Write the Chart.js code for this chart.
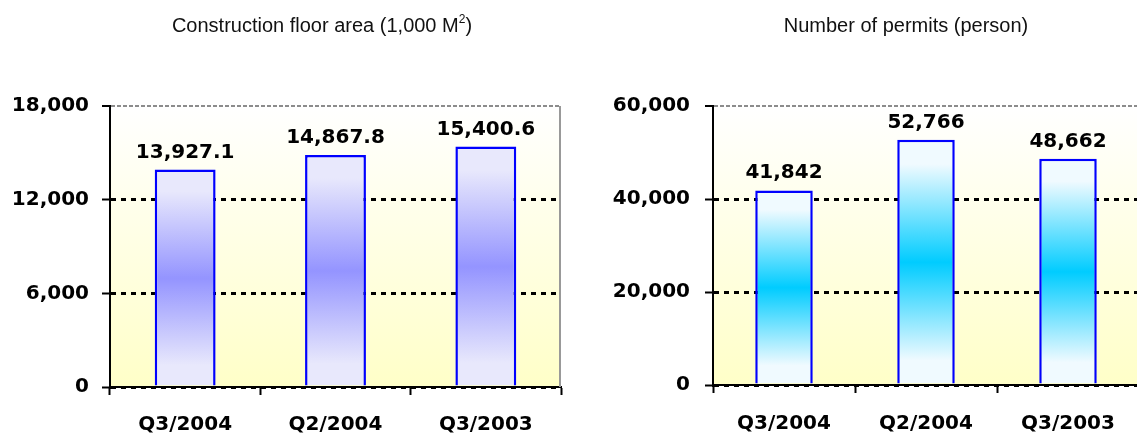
<!DOCTYPE html>
<html>
<head>
<meta charset="utf-8">
<script src="https://cdn.jsdelivr.net/npm/chart.js@4.4.0/dist/chart.umd.min.js"></script>
<style>
  html, body { margin: 0; padding: 0; background: #fff; width: 1137px; height: 435px; overflow: hidden; }
  canvas { position: absolute; top: 0; }
  .title {
    position: absolute; top: 14px; width: 400px; text-align: center; white-space: nowrap;
    font-family: "Liberation Sans", Arial, sans-serif; font-size: 20px; color: #111;
  }
  .title sup { font-size: 12px; vertical-align: 9px; line-height: 0; }
</style>
</head>
<body>
<canvas id="areaChart" width="570" height="435" style="left:0"></canvas>
<canvas id="permitChart" width="570" height="435" style="left:580px"></canvas>
<div class="title" style="left:122px">Construction floor area (1,000 M<sup>2</sup>)</div>
<div class="title" style="left:706px">Number of permits (person)</div>
<script>
// data
const quarters = ["Q3/2004", "Q2/2004", "Q3/2003"];
const floorArea = [13927.1, 14867.8, 15400.6];
const permits = [41842, 52766, 48662];
const areaTicks = [0, 6000, 12000, 18000];
const permitTicks = [0, 20000, 40000, 60000];

Chart.defaults.font.family = '"DejaVu Sans", Verdana, sans-serif';
Chart.defaults.font.weight = "bold";
Chart.defaults.font.size = 20;
Chart.defaults.color = "#000";

// white to pale yellow behind the bars
const plotBackground = {
  id: "plotBackground",
  beforeDraw(chart) {
    const { ctx, chartArea } = chart;
    if (!chartArea) return;
    const g = ctx.createLinearGradient(0, chartArea.top, 0, chartArea.bottom);
    g.addColorStop(0, "#ffffff");
    g.addColorStop(1, "#ffffc8");
    ctx.save();
    ctx.fillStyle = g;
    ctx.fillRect(chartArea.left, chartArea.top, chartArea.right - chartArea.left, chartArea.bottom - chartArea.top);
    ctx.restore();
  }
};

// grey line on the right side of the plot
const rightFrame = {
  id: "rightFrame",
  beforeDatasetsDraw(chart) {
    const { ctx, chartArea } = chart;
    ctx.save();
    ctx.strokeStyle = "#999";
    ctx.lineWidth = 2;
    ctx.beginPath();
    ctx.moveTo(chartArea.right - 1, chartArea.top);
    ctx.lineTo(chartArea.right - 1, chartArea.bottom);
    ctx.stroke();
    ctx.restore();
  }
};

// value above each bar
const valueLabels = {
  id: "valueLabels",
  afterDatasetsDraw(chart, args, opts) {
    const { ctx } = chart;
    const values = chart.data.datasets[0].data;
    ctx.save();
    ctx.font = 'bold 20px "DejaVu Sans", Verdana, sans-serif';
    ctx.fillStyle = "#000";
    ctx.textAlign = "center";
    ctx.textBaseline = "alphabetic";
    chart.getDatasetMeta(0).data.forEach((bar, i) => {
      ctx.fillText(opts.format(values[i]), bar.x, bar.y - 12);
    });
    ctx.restore();
  }
};

function barFill(light, dark) {
  return function (context) {
    const chart = context.chart;
    if (!chart.chartArea || context.type !== "data") return light;
    const y = chart.scales.y;
    const top = y.getPixelForValue(context.raw);
    const base = y.getPixelForValue(0);
    const g = chart.ctx.createLinearGradient(0, top, 0, base);
    g.addColorStop(0, light);
    g.addColorStop(0.1, light);
    g.addColorStop(0.5, dark);
    g.addColorStop(0.9, light);
    g.addColorStop(1, light);
    return g;
  };
}

function makeChart(id, values, ticks, light, dark, format, yWidth, xHeight, padRight, tickPad, labelPad) {
  const top = ticks[ticks.length - 1];
  return new Chart(document.getElementById(id), {
    type: "bar",
    data: {
      labels: quarters,
      datasets: [{
        data: values,
        backgroundColor: barFill(light, dark),
        borderColor: "#0000ff",
        borderWidth: 2.5,
        categoryPercentage: 1,
        barPercentage: 0.405
      }]
    },
    options: {
      responsive: false,
      animation: false,
      layout: { padding: { top: 106, right: padRight, left: 0, bottom: 0 } },
      plugins: {
        legend: { display: false },
        tooltip: { enabled: false },
        valueLabels: { format: format }
      },
      scales: {
        x: {
          grid: {
            drawOnChartArea: false,
            drawTicks: true,
            tickLength: 8,
            tickWidth: 2,
            tickColor: "#000"
          },
          border: { display: true, color: "#000", width: 2 },
          ticks: { padding: labelPad, font: { size: 20, weight: "bold" }, maxRotation: 0 },
          afterFit(scale) { scale.height = xHeight; }
        },
        y: {
          min: ticks[0],
          max: top,
          grid: {
            color: (c) => (c.tick && c.tick.value === top ? "#8c8c8c" : "#000"),
            lineWidth: (c) => (c.tick && c.tick.value === top ? 2 : 3),
            drawTicks: true,
            tickLength: 8,
            tickWidth: 2,
            tickColor: "#000",
            tickBorderDash: []
          },
          border: {
            display: true,
            color: "#000",
            width: 2,
            dash: (c) => (c.tick && c.tick.value === top ? [4, 2] : [5, 5])
          },
          ticks: {
            stepSize: ticks[1] - ticks[0],
            padding: tickPad,
            font: { size: 20, weight: "bold" },
            callback: (v) => v.toLocaleString("en-US")
          },
          afterFit(scale) { scale.width = yWidth; }
        }
      }
    },
    plugins: [plotBackground, rightFrame, valueLabels]
  });
}

makeChart("areaChart", floorArea, areaTicks, "#e8e8fc", "#9494ff",
  (v) => v.toLocaleString("en-US", { minimumFractionDigits: 1, maximumFractionDigits: 1 }),
  110, 48, 9, 13, 18);

makeChart("permitChart", permits, permitTicks, "#f0faff", "#00ccff",
  (v) => v.toLocaleString("en-US"),
  133, 50, 11, 15, 19);
</script>
</body>
</html>
